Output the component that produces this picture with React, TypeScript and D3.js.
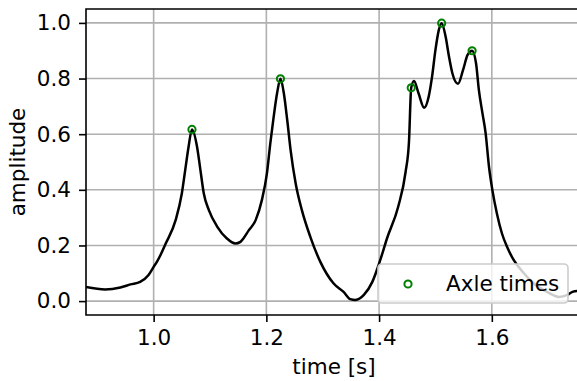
import React, { useEffect, useRef } from 'react';
import * as d3 from 'd3';

// signal
const times = [
  0.880, 0.914, 0.941, 0.959, 0.976, 0.991, 1.000, 1.006, 1.012, 1.021,
  1.039, 1.050, 1.056, 1.062, 1.068, 1.077, 1.083, 1.089, 1.098, 1.113,
  1.130, 1.145, 1.154, 1.169, 1.181, 1.192, 1.201, 1.207, 1.213, 1.219,
  1.225, 1.231, 1.237, 1.243, 1.252, 1.263, 1.278, 1.296, 1.319, 1.337,
  1.349, 1.358, 1.373, 1.388, 1.402, 1.414, 1.434, 1.447, 1.453,
  1.457, 1.462, 1.470, 1.480, 1.488, 1.494, 1.500, 1.506, 1.511, 1.518,
  1.524, 1.530, 1.540, 1.549, 1.557, 1.565, 1.572, 1.577, 1.583, 1.589,
  1.595, 1.601, 1.609, 1.618, 1.627, 1.639, 1.657, 1.674, 1.698, 1.719,
  1.734, 1.743, 1.752, 1.760,
];
const amplitude = [
  0.051, 0.042, 0.049, 0.060, 0.069, 0.094, 0.123, 0.142, 0.165, 0.205,
  0.291, 0.387, 0.471, 0.555, 0.617, 0.555, 0.471, 0.387, 0.327, 0.267,
  0.225, 0.207, 0.213, 0.255, 0.291, 0.363, 0.459, 0.567, 0.663, 0.747,
  0.799, 0.747, 0.651, 0.543, 0.423, 0.327, 0.231, 0.140, 0.064, 0.033,
  0.007, 0.004, 0.022, 0.069, 0.147, 0.225, 0.340, 0.464, 0.572,
  0.767, 0.791, 0.747, 0.695, 0.735, 0.807, 0.903, 0.975, 0.999, 0.951,
  0.879, 0.819, 0.781, 0.831, 0.885, 0.900, 0.855, 0.759, 0.680, 0.604,
  0.483, 0.399, 0.315, 0.243, 0.195, 0.147, 0.100, 0.064, 0.033, 0.015,
  0.022, 0.033, 0.036, 0.036,
];

const axleTimes = [1.068, 1.225, 1.457, 1.511, 1.565];
const axlePeaks = [0.617, 0.799, 0.767, 0.999, 0.900];

const xTicks = [1.0, 1.2, 1.4, 1.6];
const yTicks = [0.0, 0.2, 0.4, 0.6, 0.8, 1.0];

const FONT = 'DejaVu Sans, sans-serif';
const FS = 21.5;

function App() {
  const svgRef = useRef(null);

  useEffect(() => {
    const svg = d3.select(svgRef.current);
    svg.selectAll('*').remove();

    const left = 86, top = 9, right = 582, bottom = 315;
    const x = d3.scaleLinear().domain([0.88, 1.76]).range([left, right]);
    const y = d3.scaleLinear().domain([-0.05, 1.05]).range([bottom, top]);

    svg.append('defs').append('clipPath').attr('id', 'plot-clip')
      .append('rect')
      .attr('x', left).attr('y', top)
      .attr('width', right - left).attr('height', bottom - top);

    // grid
    const grid = svg.append('g').attr('stroke', '#b0b0b0').attr('stroke-width', 1.6);
    grid.selectAll('.gx').data(xTicks).enter().append('line')
      .attr('x1', d => x(d)).attr('x2', d => x(d))
      .attr('y1', top).attr('y2', bottom);
    grid.selectAll('.gy').data(yTicks).enter().append('line')
      .attr('x1', left).attr('x2', right)
      .attr('y1', d => y(d)).attr('y2', d => y(d));

    // signal
    const line = d3.line<number>()
      .x((d, i) => x(times[i]))
      .y(d => y(d))
      .curve(d3.curveMonotoneX);
    svg.append('path')
      .attr('clip-path', 'url(#plot-clip)')
      .attr('d', line(amplitude))
      .attr('fill', 'none')
      .attr('stroke', 'black')
      .attr('stroke-width', 2.5)
      .attr('stroke-linejoin', 'round');

    // axle markers
    svg.append('g').selectAll('circle').data(axleTimes).enter().append('circle')
      .attr('cx', d => x(d))
      .attr('cy', (d, i) => y(axlePeaks[i]))
      .attr('r', 3.6)
      .attr('fill', 'none')
      .attr('stroke', 'green')
      .attr('stroke-width', 2);

    // axes
    const xAxis = svg.append('g').attr('transform', `translate(0,${bottom})`)
      .call(d3.axisBottom(x).tickValues(xTicks).tickFormat(d3.format('.1f')).tickSize(7).tickPadding(8));
    const yAxis = svg.append('g').attr('transform', `translate(${left},0)`)
      .call(d3.axisLeft(y).tickValues(yTicks).tickFormat(d3.format('.1f')).tickSize(7).tickPadding(8));
    [xAxis, yAxis].forEach(a => {
      a.select('.domain').remove();
      a.attr('font-family', FONT).attr('font-size', FS);
      a.selectAll('line').attr('stroke', 'black').attr('stroke-width', 1.6);
      a.selectAll('text').attr('fill', 'black');
    });

    // spines
    svg.append('path')
      .attr('d', `M${right},${top}H${left}V${bottom}H${right}`)
      .attr('fill', 'none')
      .attr('stroke', 'black')
      .attr('stroke-width', 1.6);

    // labels
    svg.append('text')
      .attr('x', (left + right) / 2).attr('y', 374)
      .attr('text-anchor', 'middle')
      .attr('font-family', FONT).attr('font-size', FS)
      .text('time [s]');
    svg.append('text')
      .attr('transform', `translate(25,${(top + bottom) / 2}) rotate(-90)`)
      .attr('text-anchor', 'middle')
      .attr('font-family', FONT).attr('font-size', FS)
      .text('amplitude');

    // legend
    const legend = svg.append('g');
    legend.append('rect')
      .attr('x', 378).attr('y', 264).attr('width', 190).attr('height', 39)
      .attr('rx', 4)
      .attr('fill', 'white').attr('fill-opacity', 0.8)
      .attr('stroke', '#cccccc').attr('stroke-width', 1.6);
    legend.append('circle')
      .attr('cx', 408).attr('cy', 284).attr('r', 3.6)
      .attr('fill', 'none').attr('stroke', 'green').attr('stroke-width', 2);
    legend.append('text')
      .attr('x', 446).attr('y', 291)
      .attr('font-family', FONT).attr('font-size', FS)
      .text('Axle times');
  }, []);

  return (
    <svg ref={svgRef} width={577} height={381}
      style={{ position: 'absolute', left: 0, top: 0, background: 'white' }} />
  );
}

export default App;
